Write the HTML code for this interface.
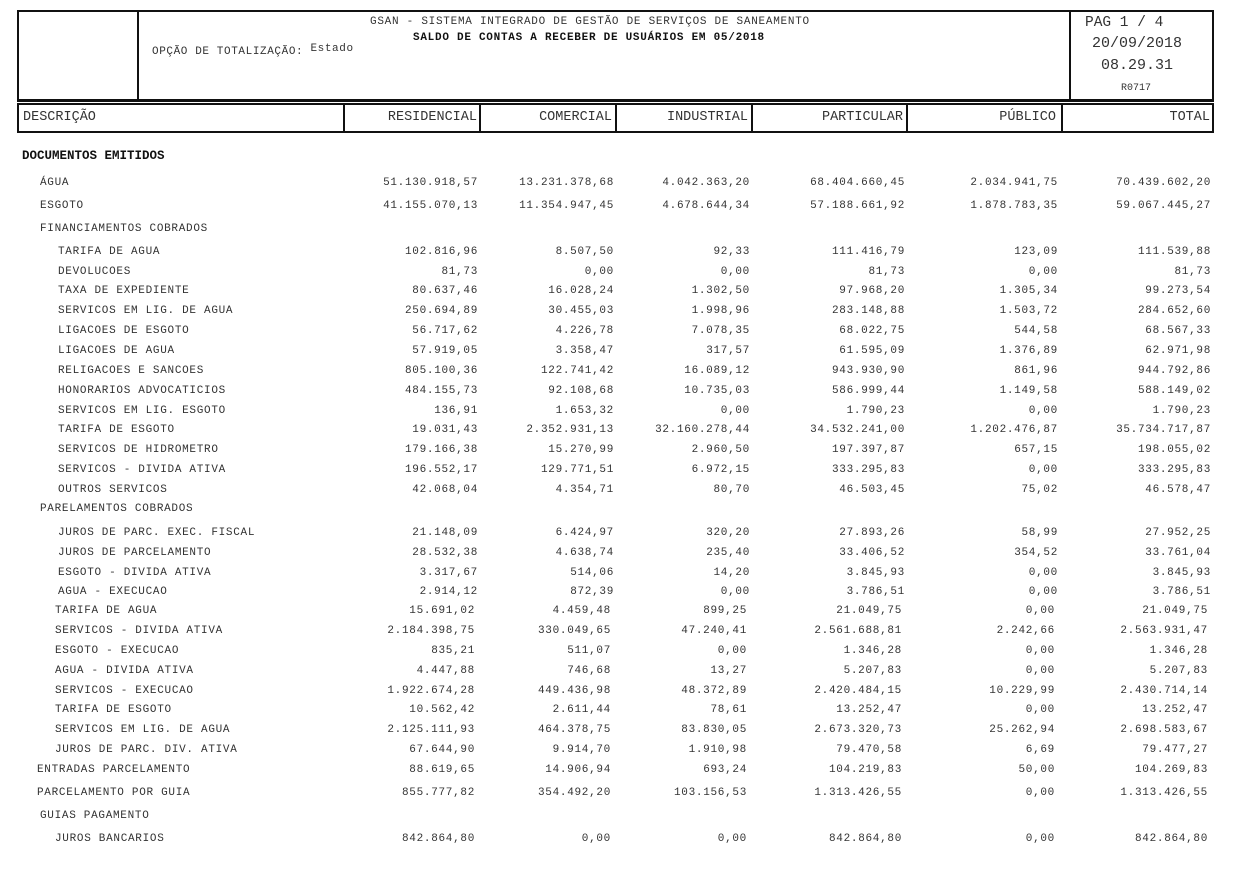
<!DOCTYPE html>
<html><head><meta charset="utf-8">
<style>
body{margin:0;width:1234px;height:876px;background:#fff;position:relative;overflow:hidden;font-family:"Liberation Mono","DejaVu Sans Mono",monospace;color:#333;}
.a{position:absolute;white-space:pre;font-size:12px;line-height:14px;}
.b{position:absolute;background:#111;}
.r{position:absolute;white-space:pre;font-size:12px;line-height:14px;text-align:right;width:130px;}
</style></head><body>
<div class="b" style="left:17px;top:10px;width:1197px;height:2px"></div>
<div class="b" style="left:17px;top:99px;width:1197px;height:3px"></div>
<div class="b" style="left:17px;top:10px;width:2px;height:91px"></div>
<div class="b" style="left:137px;top:10px;width:2px;height:91px"></div>
<div class="b" style="left:1069px;top:10px;width:2px;height:91px"></div>
<div class="b" style="left:1212px;top:10px;width:2px;height:91px"></div>
<div class="a" style="left:370px;top:15px;font-size:11px;letter-spacing:0.73px">GSAN - SISTEMA INTEGRADO DE GESTÃO DE SERVIÇOS DE SANEAMENTO</div>
<div class="a" style="left:413px;top:31px;font-size:11px;letter-spacing:0.73px;font-weight:bold;color:#111">SALDO DE CONTAS A RECEBER DE USUÁRIOS EM 05/2018</div>
<div class="a" style="left:152px;top:45px;font-size:11px;letter-spacing:0.6px">OPÇÃO DE TOTALIZAÇÃO: <span style="position:relative;top:-3px">Estado</span></div>
<div class="a" style="left:1085px;top:16px;font-size:14.5px">PAG 1 / 4</div>
<div class="a" style="left:1092px;top:37px;font-size:15px">20/09/2018</div>
<div class="a" style="left:1101px;top:59px;font-size:15px">08.29.31</div>
<div class="a" style="left:1121px;top:82px;font-size:10px">R0717</div>
<div class="b" style="left:17px;top:103px;width:1197px;height:2px"></div>
<div class="b" style="left:17px;top:131px;width:1197px;height:2px"></div>
<div class="b" style="left:17px;top:103px;width:2px;height:30px"></div>
<div class="b" style="left:343px;top:103px;width:2px;height:30px"></div>
<div class="b" style="left:479px;top:103px;width:2px;height:30px"></div>
<div class="b" style="left:615px;top:103px;width:2px;height:30px"></div>
<div class="b" style="left:751px;top:103px;width:2px;height:30px"></div>
<div class="b" style="left:906px;top:103px;width:2px;height:30px"></div>
<div class="b" style="left:1061px;top:103px;width:2px;height:30px"></div>
<div class="b" style="left:1212px;top:103px;width:2px;height:30px"></div>
<div class="a" style="left:23px;top:111px;font-size:13.5px">DESCRIÇÃO</div>
<div class="r" style="left:277px;top:111px;width:200px;font-size:13.5px">RESIDENCIAL</div>
<div class="r" style="left:412px;top:111px;width:200px;font-size:13.5px">COMERCIAL</div>
<div class="r" style="left:548px;top:111px;width:200px;font-size:13.5px">INDUSTRIAL</div>
<div class="r" style="left:703px;top:111px;width:200px;font-size:13.5px">PARTICULAR</div>
<div class="r" style="left:856px;top:111px;width:200px;font-size:13.5px">PÚBLICO</div>
<div class="r" style="left:1010px;top:111px;width:200px;font-size:13.5px">TOTAL</div>
<div class="a" style="left:22px;top:149px;font-weight:bold;font-size:12.5px;color:#111">DOCUMENTOS EMITIDOS</div>
<div id="rows"></div>
<script>
const R=[
[181,40,"ÁGUA",["51.130.918,57","13.231.378,68","4.042.363,20","68.404.660,45","2.034.941,75","70.439.602,20"],0],
[204,40,"ESGOTO",["41.155.070,13","11.354.947,45","4.678.644,34","57.188.661,92","1.878.783,35","59.067.445,27"],0],
[227,40,"FINANCIAMENTOS COBRADOS",null,0],
[250,58,"TARIFA DE AGUA",["102.816,96","8.507,50","92,33","111.416,79","123,09","111.539,88"],0],
[270,58,"DEVOLUCOES",["81,73","0,00","0,00","81,73","0,00","81,73"],0],
[289,58,"TAXA DE EXPEDIENTE",["80.637,46","16.028,24","1.302,50","97.968,20","1.305,34","99.273,54"],0],
[309,58,"SERVICOS EM LIG. DE AGUA",["250.694,89","30.455,03","1.998,96","283.148,88","1.503,72","284.652,60"],0],
[329,58,"LIGACOES DE ESGOTO",["56.717,62","4.226,78","7.078,35","68.022,75","544,58","68.567,33"],0],
[349,58,"LIGACOES DE AGUA",["57.919,05","3.358,47","317,57","61.595,09","1.376,89","62.971,98"],0],
[369,58,"RELIGACOES E SANCOES",["805.100,36","122.741,42","16.089,12","943.930,90","861,96","944.792,86"],0],
[389,58,"HONORARIOS ADVOCATICIOS",["484.155,73","92.108,68","10.735,03","586.999,44","1.149,58","588.149,02"],0],
[409,58,"SERVICOS EM LIG. ESGOTO",["136,91","1.653,32","0,00","1.790,23","0,00","1.790,23"],0],
[428,58,"TARIFA DE ESGOTO",["19.031,43","2.352.931,13","32.160.278,44","34.532.241,00","1.202.476,87","35.734.717,87"],0],
[448,58,"SERVICOS DE HIDROMETRO",["179.166,38","15.270,99","2.960,50","197.397,87","657,15","198.055,02"],0],
[468,58,"SERVICOS - DIVIDA ATIVA",["196.552,17","129.771,51","6.972,15","333.295,83","0,00","333.295,83"],0],
[488,58,"OUTROS SERVICOS",["42.068,04","4.354,71","80,70","46.503,45","75,02","46.578,47"],0],
[507,40,"PARELAMENTOS COBRADOS",null,0],
[531,58,"JUROS DE PARC. EXEC. FISCAL",["21.148,09","6.424,97","320,20","27.893,26","58,99","27.952,25"],0],
[551,58,"JUROS DE PARCELAMENTO",["28.532,38","4.638,74","235,40","33.406,52","354,52","33.761,04"],0],
[571,58,"ESGOTO - DIVIDA ATIVA",["3.317,67","514,06","14,20","3.845,93","0,00","3.845,93"],0],
[590,58,"AGUA - EXECUCAO",["2.914,12","872,39","0,00","3.786,51","0,00","3.786,51"],0],
[609,55,"TARIFA DE AGUA",["15.691,02","4.459,48","899,25","21.049,75","0,00","21.049,75"],3],
[629,55,"SERVICOS - DIVIDA ATIVA",["2.184.398,75","330.049,65","47.240,41","2.561.688,81","2.242,66","2.563.931,47"],3],
[649,55,"ESGOTO - EXECUCAO",["835,21","511,07","0,00","1.346,28","0,00","1.346,28"],3],
[669,55,"AGUA - DIVIDA ATIVA",["4.447,88","746,68","13,27","5.207,83","0,00","5.207,83"],3],
[689,55,"SERVICOS - EXECUCAO",["1.922.674,28","449.436,98","48.372,89","2.420.484,15","10.229,99","2.430.714,14"],3],
[708,55,"TARIFA DE ESGOTO",["10.562,42","2.611,44","78,61","13.252,47","0,00","13.252,47"],3],
[728,55,"SERVICOS EM LIG. DE AGUA",["2.125.111,93","464.378,75","83.830,05","2.673.320,73","25.262,94","2.698.583,67"],3],
[748,55,"JUROS DE PARC. DIV. ATIVA",["67.644,90","9.914,70","1.910,98","79.470,58","6,69","79.477,27"],3],
[768,37,"ENTRADAS PARCELAMENTO",["88.619,65","14.906,94","693,24","104.219,83","50,00","104.269,83"],3],
[791,37,"PARCELAMENTO POR GUIA",["855.777,82","354.492,20","103.156,53","1.313.426,55","0,00","1.313.426,55"],3],
[814,40,"GUIAS PAGAMENTO",null,0],
[837,55,"JUROS BANCARIOS",["842.864,80","0,00","0,00","842.864,80","0,00","842.864,80"],3]
];
const E=[478,614,750,905,1058,1211];
let h="";
for(const [y,x,l,v,o] of R){
 h+=`<div class="a" style="left:${x}px;top:${y-5.5}px;font-size:11px;letter-spacing:0.7px">${l}</div>`;
 if(v) v.forEach((s,i)=>{h+=`<div class="r" style="left:${E[i]-o-130}px;top:${y-5.5}px;font-size:11px;letter-spacing:0.7px">${s}</div>`;});
}
document.getElementById("rows").innerHTML=h;
</script>
</body></html>
